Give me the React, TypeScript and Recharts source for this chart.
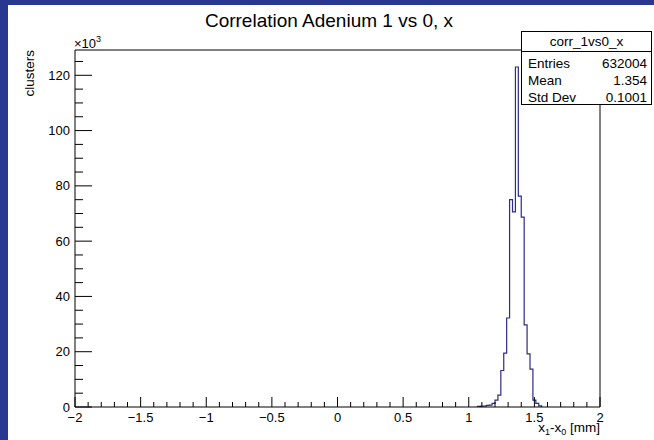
import React from 'react';
import { LineChart, Line, XAxis, YAxis, ReferenceLine } from 'recharts';

// Histogram bin lower edges (180 bins over [-2, 2]) for the non-empty region, plus final upper edge
const binEdges = [
  1.06667, 1.08889, 1.11111, 1.13333, 1.15556, 1.17778, 1.2, 1.22222, 1.24444, 1.26667,
  1.28889, 1.31111, 1.33333, 1.35556, 1.37778, 1.4, 1.42222, 1.44444, 1.46667, 1.48889,
  1.51111, 1.53333, 1.55556,
];
// Counts per bin (clusters)
const binCounts = [
  250, 300, 350, 600, 700, 1300, 2500, 4300, 13200, 19500,
  32200, 75000, 70600, 123000, 76300, 68700, 29700, 19200, 13700, 2500,
  1300, 400,
];

const xMajorTicks = [-2, -1.5, -1, -0.5, 0, 0.5, 1, 1.5, 2];
const yMajorTicks = [0, 20000, 40000, 60000, 80000, 100000, 120000];
const yMax = 129150;

const statsNames = ['Entries', 'Mean', 'Std Dev'];
const statsValues = ['632004', '1.354', '0.1001'];

const FONT = '"Liberation Sans", Arial, Helvetica, sans-serif';
const HIST_COLOR = '#2b2b8c';

// Build step data
const histData: { x: number; y: number }[] = [{ x: binEdges[0], y: 0 }];
binCounts.forEach((c, i) => histData.push({ x: binEdges[i], y: c }));
histData.push({ x: binEdges[binEdges.length - 1], y: 0 });

// minor ticks: 5 subdivisions of x majors, 4 of y majors
const xTicks: number[] = [];
for (let i = 0; i < xMajorTicks.length - 1; i++) {
  const a = xMajorTicks[i];
  const b = xMajorTicks[i + 1];
  for (let j = 0; j < 5; j++) xTicks.push(Math.round((a + ((b - a) * j) / 5) * 1000) / 1000);
}
xTicks.push(xMajorTicks[xMajorTicks.length - 1]);

const yTicks: number[] = [];
for (let i = 0; i < yMajorTicks.length - 1; i++) {
  const a = yMajorTicks[i];
  const b = yMajorTicks[i + 1];
  for (let j = 0; j < 4; j++) yTicks.push(a + ((b - a) * j) / 4);
}
yTicks.push(yMajorTicks[yMajorTicks.length - 1]);
yTicks.push(yMajorTicks[yMajorTicks.length - 1] + 5000);

const fmtX = (v: number) => {
  const s = String(v);
  return s.startsWith('-') ? '\u2212' + s.slice(1) : s;
};

const XTick = (props: any) => {
  const { x, y, payload } = props;
  const v = payload.value;
  const major = xMajorTicks.some((m) => Math.abs(m - v) < 1e-6);
  return (
    <g>
      <line x1={x} y1={y} x2={x} y2={y - (major ? 10 : 5)} stroke="#000" strokeWidth={1} />
      {major && (
        <text x={x} y={y + 15} textAnchor="middle" fontSize={13} fontFamily={FONT} fill="#000">
          {fmtX(v)}
        </text>
      )}
    </g>
  );
};

const YTick = (props: any) => {
  const { x, y, payload } = props;
  const v = payload.value;
  const major = yMajorTicks.includes(v);
  return (
    <g>
      <line x1={x} y1={y} x2={x + (major ? 17 : 8)} y2={y} stroke="#000" strokeWidth={1} />
      {major && (
        <text x={x - 5} y={y + 4.5} textAnchor="end" fontSize={13} fontFamily={FONT} fill="#000">
          {v / 1000}
        </text>
      )}
    </g>
  );
};

export default function App() {
  return (
    <div style={{ position: 'absolute', left: 0, top: 0, width: 654, height: 440, background: '#283891', overflow: 'hidden' }}>
      <div style={{ position: 'absolute', left: 8, top: 5, width: 646, height: 435, background: '#fff' }} />
      <div style={{ position: 'absolute', left: 0, top: 0 }}>
        <LineChart width={654} height={440} data={histData} margin={{ top: 50, right: 54, bottom: 32, left: 74 }}>
          <XAxis
            dataKey="x"
            type="number"
            domain={[-2, 2]}
            ticks={xTicks}
            interval={0}
            tickSize={0}
            tickMargin={0}
            height={1}
            tick={<XTick />}
            axisLine={{ stroke: '#000' }}
            tickLine={false}
            allowDataOverflow
          />
          <YAxis
            type="number"
            domain={[0, yMax]}
            ticks={yTicks}
            interval={0}
            tickSize={0}
            tickMargin={0}
            width={1}
            tick={<YTick />}
            axisLine={{ stroke: '#000' }}
            tickLine={false}
            allowDataOverflow
          />
          <ReferenceLine y={yMax} stroke="#000" strokeWidth={1} />
          <ReferenceLine x={2} stroke="#000" strokeWidth={1} />
          <Line
            type="stepAfter"
            dataKey="y"
            stroke={HIST_COLOR}
            strokeWidth={1.2}
            dot={false}
            activeDot={false}
            isAnimationActive={false}
          />
        </LineChart>
      </div>
      <svg width={654} height={440} style={{ position: 'absolute', left: 0, top: 0, pointerEvents: 'none' }}>
        <text x={329} y={27} textAnchor="middle" fontSize={19} fontFamily={FONT} fill="#000">
          Correlation Adenium 1 vs 0, x
        </text>
        <text x={33.5} y={50} transform="rotate(-90 33.5 50)" textAnchor="end" fontSize={13.5} fontFamily={FONT} fill="#000">
          clusters
        </text>
        <text x={74} y={48} fontSize={13} fontFamily={FONT} fill="#000">
          ×10<tspan fontSize={9} dy={-6}>3</tspan>
        </text>
        <text x={600} y={432} textAnchor="end" fontSize={13.5} fontFamily={FONT} fill="#000">
          x<tspan fontSize={9} dy={3}>1</tspan>
          <tspan dy={-3}>-x</tspan>
          <tspan fontSize={9} dy={3}>0</tspan>
          <tspan dy={-3}> [mm]</tspan>
        </text>
        <rect x={521.5} y={31.5} width={130} height={73} fill="#fff" stroke="#000" strokeWidth={1} />
        <line x1={521.5} y1={51.5} x2={651.5} y2={51.5} stroke="#000" strokeWidth={1} />
        <text x={586.5} y={46} textAnchor="middle" fontSize={13.5} fontFamily={FONT} fill="#000">
          corr_1vs0_x
        </text>
        {statsNames.map((n, i) => (
          <text key={n} x={528} y={68 + i * 17} fontSize={13.5} fontFamily={FONT} fill="#000">
            {n}
          </text>
        ))}
        {statsValues.map((v, i) => (
          <text key={v} x={647} y={68 + i * 17} textAnchor="end" fontSize={13.5} fontFamily={FONT} fill="#000">
            {v}
          </text>
        ))}
      </svg>
    </div>
  );
}
